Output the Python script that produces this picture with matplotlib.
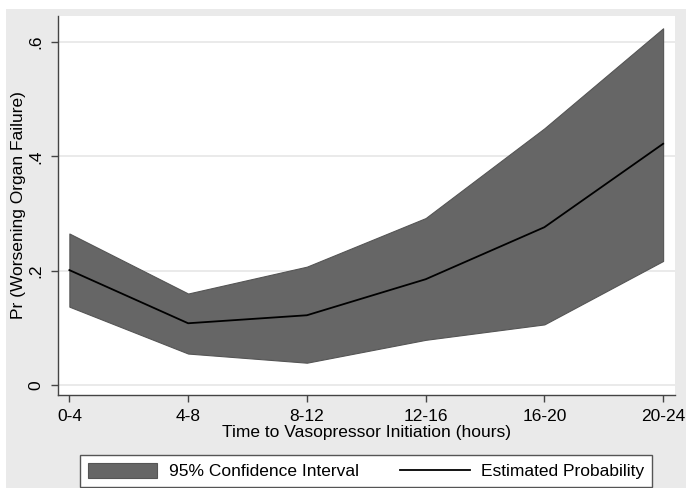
import matplotlib
matplotlib.use('Agg')
import matplotlib.pyplot as plt
from matplotlib.patches import Rectangle, Patch
from matplotlib.lines import Line2D

plt.rcParams['font.family'] = ['Liberation Sans', 'DejaVu Sans']

# data
time_bins = ['0-4', '4-8', '8-12', '12-16', '16-20', '20-24']
estimate = [0.201, 0.108, 0.122, 0.185, 0.276, 0.422]
ci_upper = [0.265, 0.160, 0.207, 0.292, 0.449, 0.624]
ci_lower = [0.137, 0.055, 0.039, 0.079, 0.106, 0.217]
y_ticks = [0, 0.2, 0.4, 0.6]
y_tick_labels = ['0', '.2', '.4', '.6']

bg = '#eaeaea'
axis_col = '#444444'

fig = plt.figure(figsize=(6.86, 4.88), dpi=100)
fig.patch.set_facecolor('white')
# stata-like gray graph region (white strip left and top)
fig.add_artist(Rectangle((6 / 686, 0), 1 - 6 / 686, (488 - 9) / 488,
                         transform=fig.transFigure, facecolor=bg,
                         edgecolor='none', zorder=-10))

ax = fig.add_axes([57.5 / 686, (488 - 395) / 488, (675 - 57.5) / 686, (395 - 16) / 488])
ax.set_facecolor('white')

x = list(range(len(time_bins)))
ax.fill_between(x, ci_lower, ci_upper, facecolor='#666666', edgecolor='#555555',
                linewidth=0.8, zorder=2)
ax.plot(x, estimate, color='black', linewidth=1.3, zorder=3)

ax.set_xlim(-0.1, 5.1)
ax.set_ylim(-0.0175, 0.6455)

ax.set_xticks(x)
ax.set_xticklabels(time_bins, fontsize=12.5)
ax.set_yticks(y_ticks)
ax.set_yticklabels(y_tick_labels, fontsize=12.5, rotation=90, va='center')
ax.tick_params(axis='both', direction='out', length=5, width=1, color=axis_col, pad=5)

for yv in y_ticks:
    ax.axhline(yv, color='#e6e6e6', linewidth=1.2, zorder=1)

for s in ['top', 'right']:
    ax.spines[s].set_visible(False)
for s in ['left', 'bottom']:
    ax.spines[s].set_color(axis_col)
    ax.spines[s].set_linewidth(1)

ax.set_xlabel('Time to Vasopressor Initiation (hours)', fontsize=12.5, labelpad=1)
ax.set_ylabel('Pr (Worsening Organ Failure)', fontsize=12.5, labelpad=2)

handles = [Patch(facecolor='#666666', edgecolor='#555555', linewidth=0.8),
           Line2D([], [], color='black', linewidth=1.3)]
leg = fig.legend(handles, ['95% Confidence Interval', 'Estimated Probability'],
                 loc='center', bbox_to_anchor=(366 / 686, (488 - 471) / 488),
                 ncol=2, fontsize=12.5, frameon=True, fancybox=False,
                 handlelength=4.0, handleheight=1.0, handletextpad=0.65,
                 columnspacing=2.4, borderpad=0.45, borderaxespad=0)
leg.get_frame().set_edgecolor('#555555')
leg.get_frame().set_linewidth(1)
leg.get_frame().set_facecolor('white')
leg.get_frame().set_alpha(1)

fig.savefig('out.png', dpi=100)
